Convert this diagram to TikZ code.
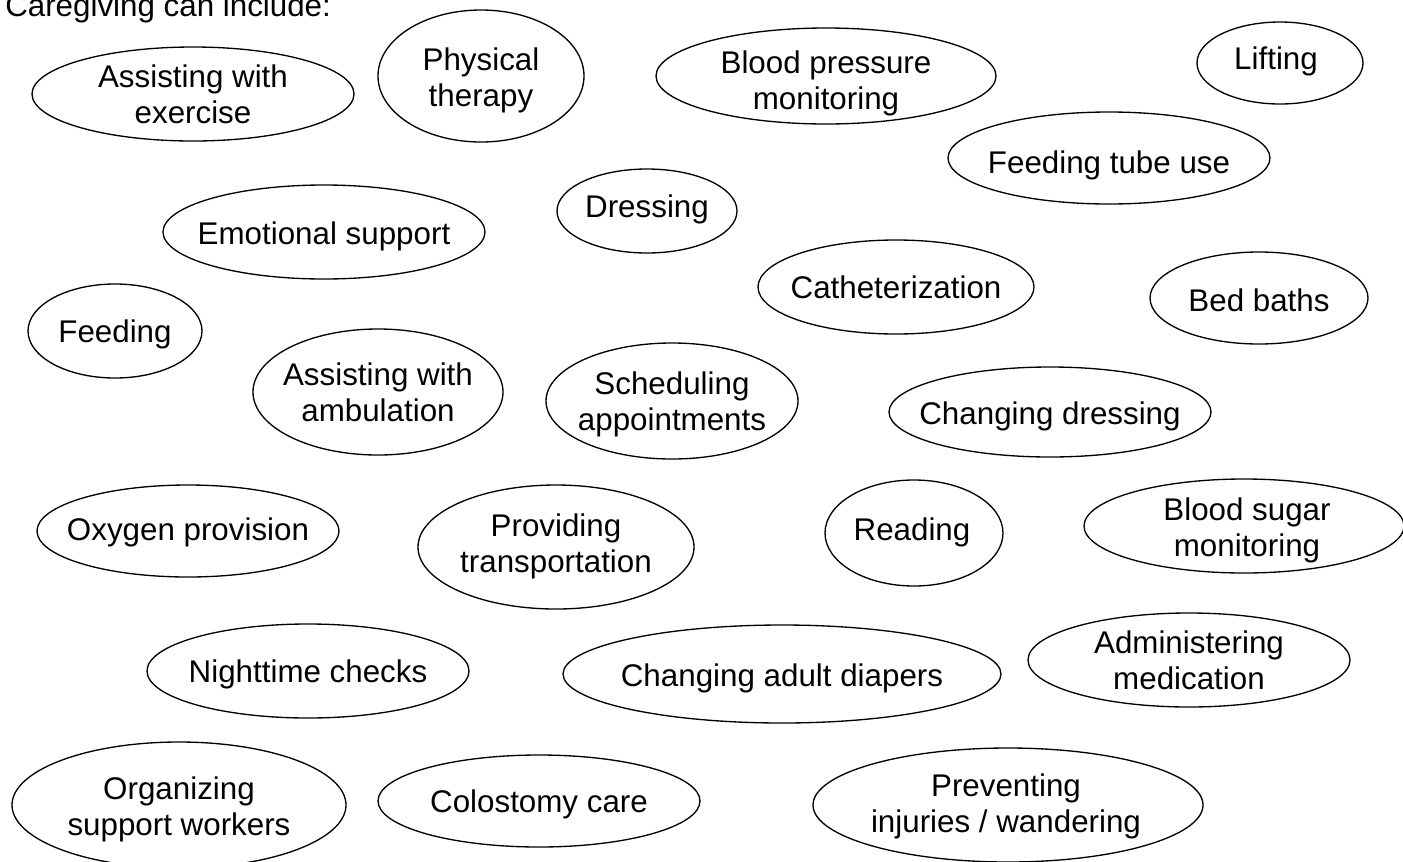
\documentclass[tikz,border=0pt]{standalone}
\usepackage{fontspec}
\setmainfont{Liberation Sans}
\usetikzlibrary{shapes.geometric}
\begin{document}
\begin{tikzpicture}[x=0.75pt,y=-0.75pt,
  bub/.style 2 args={ellipse,draw,line width=1pt,inner sep=0pt,
    minimum width=#1*0.75pt,minimum height=#2*0.75pt},
  lbl/.style={align=center,inner sep=0pt,text depth=0pt,
    font=\fontsize{23.5}{27}\selectfont}]
\useasboundingbox (0,0) rectangle (1403,861);
\node[inner sep=0pt,anchor=base west,font=\fontsize{23.5}{27}\selectfont] (title) at (5,16) {Caregiving can include:};
% ellipses
\node[bub={322}{94}]  (ex) at (193,94)  {};
\node[bub={206}{132}] (pt) at (481,76)  {};
\node[bub={340}{96}]  (bp) at (826,76)  {};
\node[bub={166}{82}]  (li) at (1280,63) {};
\node[bub={322}{92}]  (ft) at (1109,158) {};
\node[bub={180}{84}]  (dr) at (647,211) {};
\node[bub={322}{94}]  (es) at (324,232) {};
\node[bub={276}{94}]  (ca) at (896,287) {};
\node[bub={218}{92}]  (bb) at (1259,298) {};
\node[bub={174}{94}]  (fe) at (115,331) {};
\node[bub={250}{126}] (am) at (378,392) {};
\node[bub={252}{116}] (sa) at (672,401) {};
\node[bub={322}{90}]  (cd) at (1050,412) {};
\node[bub={302}{92}]  (op) at (188,531) {};
\node[bub={276}{124}] (tr) at (556,547) {};
\node[bub={178}{106}] (re) at (914,533) {};
\node[bub={320}{94}]  (bs) at (1244,526) {};
\node[bub={322}{94}]  (nc) at (308,671) {};
\node[bub={438}{98}]  (di) at (782,674) {};
\node[bub={322}{94}]  (ad) at (1189,660) {};
\node[bub={334}{126}] (os) at (179,805) {};
\node[bub={322}{92}]  (cc) at (539,801) {};
\node[bub={390}{114}] (pi) at (1008,805) {};
% labels
\node[lbl] (ex-t) at (193,94)  {Assisting with\\exercise};
\node[lbl] (pt-t) at (481,77)  {Physical\\therapy};
\node[lbl] (bp-t) at (826,80)  {Blood pressure\\monitoring};
\node[lbl] (li-t) at (1276,58) {Lifting};
\node[lbl] (ft-t) at (1109,162) {Feeding tube use};
\node[lbl] (dr-t) at (647,206) {Dressing};
\node[lbl] (es-t) at (324,233) {Emotional support};
\node[lbl] (ca-t) at (896,287) {Catheterization};
\node[lbl] (bb-t) at (1259,300) {Bed baths};
\node[lbl] (fe-t) at (115,331) {Feeding};
\node[lbl] (am-t) at (378,392) {Assisting with\\ambulation};
\node[lbl] (sa-t) at (672,401) {Scheduling\\appointments};
\node[lbl] (cd-t) at (1050,413) {Changing dressing};
\node[lbl] (op-t) at (188,529) {Oxygen provision};
\node[lbl] (tr-t) at (556,543) {Providing\\transportation};
\node[lbl] (re-t) at (912,529) {Reading};
\node[lbl] (bs-t) at (1247,527) {Blood sugar\\monitoring};
\node[lbl] (nc-t) at (308,671) {Nighttime checks};
\node[lbl] (di-t) at (782,675) {Changing adult diapers};
\node[lbl] (ad-t) at (1189,660) {Administering\\medication};
\node[lbl] (os-t) at (179,806) {Organizing\\support workers};
\node[lbl] (cc-t) at (539,801) {Colostomy care};
\node[lbl] (pi-t) at (1006,803) {Preventing\\injuries / wandering};
\end{tikzpicture}
\end{document}
